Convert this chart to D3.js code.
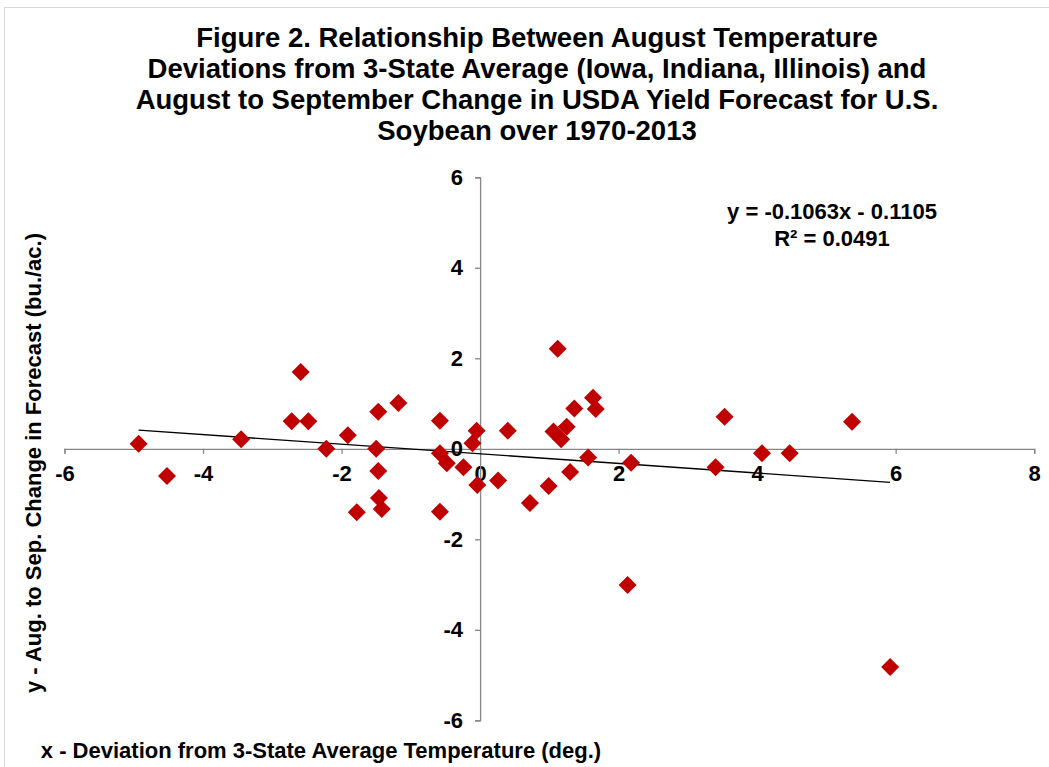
<!doctype html>
<html lang="en">
    <head>
        <meta charset="utf-8">
        <title>Figure 2</title>
        <style>
            body { margin: 0; background: #fff; }
            svg text { font-family: "Liberation Sans", Arial, sans-serif; font-weight: bold; fill: #000; }
        </style>
    </head>
    <body>
        <svg id="chart"></svg>
        <script src="https://d3js.org/d3.v7.min.js"></script>
        <script>
            //Size of the whole picture
            var svgWidth = 1049;
            var svgHeight = 767;

            //Temperature deviation (x) and forecast change (y), one pair per year 1970-2013
            var tempDev = [-4.93, -4.52, -3.45, -2.59, -2.72, -2.48, -2.22, -1.91, -1.78, -1.47,
                           -1.18, -1.50, -1.47, -1.46, -1.42, -0.58, -0.58, -0.48, -0.24, -0.58,
                           -0.11, -0.05, -0.04, 0.26, 0.40, 0.72, 0.99, 1.06, 1.17, 1.12,
                           1.25, 1.30, 1.36, 1.56, 1.63, 1.67, 2.18, 3.53, 3.40, 4.07,
                           4.47, 5.37, 2.13, 5.92];
            var yieldChange = [0.11, -0.60, 0.21, 1.70, 0.61, 0.61, 0.0, 0.30, -1.40, 0.82,
                               1.01, 0.0, -0.49, -1.09, -1.33, 0.62, -0.10, -0.32, -0.41, -1.39,
                               0.12, 0.40, -0.80, -0.70, 0.40, -1.20, -0.82, 0.38, 0.21, 2.21,
                               0.49, -0.51, 0.89, -0.19, 1.13, 0.88, -0.31, 0.71, -0.41, -0.10,
                               -0.10, 0.60, -3.01, -4.82];

            //Tick values and trend line
            var xTicks = [-6, -4, -2, 0, 2, 4, 6, 8];
            var yTicks = [-6, -4, -2, 0, 2, 4, 6];
            var slope = -0.1063;
            var intercept = -0.1105;
            var titleLines = ["Figure 2. Relationship Between August Temperature",
                              "Deviations from 3-State Average (Iowa, Indiana, Illinois) and",
                              "August to September Change in USDA Yield Forecast for U.S.",
                              "Soybean over 1970-2013"];
            var equationLines = ["y = -0.1063x - 0.1105", "R\u00b2 = 0.0491"];

            var svg = d3.select("#chart")
                .attr("width", svgWidth)
                .attr("height", svgHeight);

            //Light frame of the chart area
            svg.append("rect")
                .attr("x", 4.5).attr("y", 7.5)
                .attr("width", 1100).attr("height", 800)
                .attr("fill", "none")
                .attr("stroke", "#d9d9d9");

            //Scales
            var x = d3.scaleLinear().domain([-6, 8]).range([64.5, 1034.2]);
            var y = d3.scaleLinear().domain([-6, 6]).range([720.3, 177.3]);

            //Title
            svg.append("g").selectAll("text")
                .data(titleLines)
                .enter()
                .append("text")
                .attr("x", 537)
                .attr("y", function(d, i) { return 47 + i * 31; })
                .attr("text-anchor", "middle")
                .style("font-size", "27.5px")
                .text(function(d) { return d; });

            //Axes crossing at zero
            var xAxis = svg.append("g")
                .attr("transform", "translate(0," + y(0) + ")")
                .call(d3.axisBottom(x).tickValues(xTicks).tickSize(5).tickPadding(12).tickFormat(d3.format("d")));
            var yAxis = svg.append("g")
                .attr("transform", "translate(" + x(0) + ",0)")
                .call(d3.axisLeft(y).tickValues(yTicks).tickSize(5).tickPadding(12).tickFormat(d3.format("d")));

            [xAxis, yAxis].forEach(function(ax) {
                ax.selectAll("path, line").attr("stroke", "#868686").attr("stroke-width", 1.3);
                ax.selectAll("text")
                    .style("font-size", "22px")
                    .style("font-family", "'Liberation Sans', Arial, sans-serif")
                    .style("font-weight", "bold")
                    .attr("fill", "#000");
            });
            //Minus sign drawn as a hyphen like the original
            svg.selectAll(".tick text").text(function(d) { return String(d); });

            //Trend line over the span of the data
            var xMin = d3.min(tempDev), xMax = d3.max(tempDev);
            svg.append("line")
                .attr("x1", x(xMin)).attr("y1", y(slope * xMin + intercept))
                .attr("x2", x(xMax)).attr("y2", y(slope * xMax + intercept))
                .attr("stroke", "#000")
                .attr("stroke-width", 1.3);

            //Diamonds
            var half = 9;
            svg.append("g").selectAll("path")
                .data(tempDev)
                .enter()
                .append("path")
                .attr("d", "M0," + (-half) + "L" + half + ",0L0," + half + "L" + (-half) + ",0Z")
                .attr("transform", function(d, i) {
                    return "translate(" + x(d) + "," + y(yieldChange[i]) + ")";
                })
                .attr("fill", "#c00000");

            //Equation
            svg.append("g").selectAll("text")
                .data(equationLines)
                .enter()
                .append("text")
                .attr("x", 832)
                .attr("y", function(d, i) { return 219 + i * 27; })
                .attr("text-anchor", "middle")
                .style("font-size", "22px")
                .text(function(d) { return d; });

            //Axis titles
            svg.append("text")
                .attr("transform", "translate(41,463) rotate(-90)")
                .attr("text-anchor", "middle")
                .style("font-size", "22px")
                .text("y - Aug. to Sep. Change in Forecast (bu./ac.)");
            svg.append("text")
                .attr("x", 321)
                .attr("y", 758)
                .attr("text-anchor", "middle")
                .style("font-size", "22px")
                .text("x - Deviation from 3-State Average Temperature (deg.)");
        </script>
    </body>
</html>
